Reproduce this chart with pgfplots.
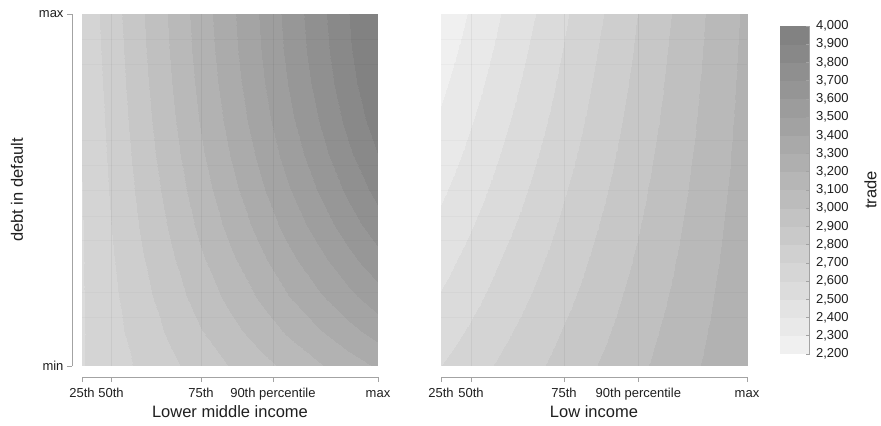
\documentclass[border=0pt]{standalone}
\usepackage{fontspec}
\setmainfont{Liberation Sans}
\usepackage{pgfplots}
\usepackage{pgfplotstable}
\pgfplotsset{compat=1.18}
\definecolor{axisgray}{gray}{0.64}
\definecolor{txt}{gray}{0.12}
\pgfplotsset{
  colormap={trade}{gray(0cm)=(0.940) gray(1cm)=(0.915) gray(2cm)=(0.889) gray(3cm)=(0.864) gray(4cm)=(0.839) gray(5cm)=(0.814) gray(6cm)=(0.788) gray(7cm)=(0.763) gray(8cm)=(0.738) gray(9cm)=(0.712) gray(10cm)=(0.687) gray(11cm)=(0.662) gray(12cm)=(0.636) gray(13cm)=(0.611) gray(14cm)=(0.586) gray(15cm)=(0.560) gray(16cm)=(0.535) gray(17cm)=(0.510) gray(18cm)=(0.510)},
  dataax/.style={anchor=south west, scale only axis, height=352bp,
    xmin=0, xmax=1, ymin=0, ymax=1, view={0}{90}, hide axis,
    colormap name=trade, point meta min=2200, point meta max=4000},
  deco/.style={anchor=south west, scale only axis, height=352bp,
    xmin=0, xmax=1, ymin=0, ymax=1,
    axis x line*=bottom, axis y line*=left,
    axis x line shift=11bp, axis y line shift=10bp,
    x axis line style={-, draw=axisgray, line width=0.7bp},
    y axis line style={-, draw=axisgray, line width=0.7bp},
    tick align=outside, major tick length=5bp,
    every tick/.style={draw=axisgray, line width=0.7bp},
    xtick={0,0.098,0.402,0.645,1},
    xticklabels={25th,50th,75th,90th percentile,max},
    ytick={0,1}, yticklabels={min,max},
    tick label style={font=\fontsize{13bp}{15bp}\selectfont, text=txt},
    xticklabel style={text height=9.4bp, text depth=0bp, yshift=-3bp},
    label style={font=\fontsize{16.5bp}{19bp}\selectfont, text=txt},
    xlabel style={yshift=4bp},
    ylabel shift=4bp,
    extra x ticks={0.098,0.402,0.645}, extra x tick labels={},
    extra y ticks={0.139,0.21,0.358,0.426,0.5,0.57,0.642,0.858,0.928}, extra y tick labels={},
    extra x tick style={major tick length=0pt, grid=major, major grid style={draw=black, opacity=0.05, line width=0.7bp}},
    extra y tick style={major tick length=0pt, grid=major, major grid style={draw=black, opacity=0.022, line width=0.7bp}},
  },
}
\pgfplotstableread{
x y z
0 0 2595
0.1 0 2657
0.2 0 2718
0.3 0 2780
0.4 0 2842
0.5 0 2904
0.6 0 2965
0.7 0 3027
0.8 0 3089
0.9 0 3150
1 0 3212
0 0.1 2594
0.1 0.1 2669
0.2 0.1 2744
0.3 0.1 2819
0.4 0.1 2894
0.5 0.1 2969
0.6 0.1 3044
0.7 0.1 3118
0.8 0.1 3193
0.9 0.1 3268
1 0.1 3343
0 0.2 2594
0.1 0.2 2681
0.2 0.2 2767
0.3 0.2 2854
0.4 0.2 2941
0.5 0.2 3027
0.6 0.2 3114
0.7 0.2 3201
0.8 0.2 3288
0.9 0.2 3374
1 0.2 3461
0 0.3 2595
0.1 0.3 2692
0.2 0.3 2789
0.3 0.3 2886
0.4 0.3 2983
0.5 0.3 3080
0.6 0.3 3177
0.7 0.3 3274
0.8 0.3 3371
0.9 0.3 3469
1 0.3 3566
0 0.4 2596
0.1 0.4 2703
0.2 0.4 2809
0.3 0.4 2915
0.4 0.4 3021
0.5 0.4 3127
0.6 0.4 3233
0.7 0.4 3339
0.8 0.4 3445
0.9 0.4 3551
1 0.4 3657
0 0.5 2599
0.1 0.5 2713
0.2 0.5 2826
0.3 0.5 2940
0.4 0.5 3053
0.5 0.5 3167
0.6 0.5 3281
0.7 0.5 3394
0.8 0.5 3508
0.9 0.5 3621
1 0.5 3735
0 0.6 2603
0.1 0.6 2722
0.2 0.6 2842
0.3 0.6 2962
0.4 0.6 3082
0.5 0.6 3201
0.6 0.6 3321
0.7 0.6 3441
0.8 0.6 3560
0.9 0.6 3680
1 0.6 3800
0 0.7 2607
0.1 0.7 2731
0.2 0.7 2856
0.3 0.7 2980
0.4 0.7 3105
0.5 0.7 3229
0.6 0.7 3354
0.7 0.7 3478
0.8 0.7 3602
0.9 0.7 3727
1 0.7 3851
0 0.8 2612
0.1 0.8 2740
0.2 0.8 2868
0.3 0.8 2996
0.4 0.8 3123
0.5 0.8 3251
0.6 0.8 3379
0.7 0.8 3506
0.8 0.8 3634
0.9 0.8 3762
1 0.8 3889
0 0.9 2619
0.1 0.9 2748
0.2 0.9 2878
0.3 0.9 3008
0.4 0.9 3137
0.5 0.9 3267
0.6 0.9 3396
0.7 0.9 3526
0.8 0.9 3655
0.9 0.9 3785
1 0.9 3914
0 1 2626
0.1 1 2756
0.2 1 2886
0.3 1 3016
0.4 1 3146
0.5 1 3276
0.6 1 3406
0.7 1 3536
0.8 1 3666
0.9 1 3796
1 1 3926
}\tA
\pgfplotstableread{
x y z
0 0 2600
0.1 0 2659
0.2 0 2718
0.3 0 2777
0.4 0 2836
0.5 0 2895
0.6 0 2954
0.7 0 3013
0.8 0 3072
0.9 0 3131
1 0 3190
0 0.1 2552
0.1 0.1 2615
0.2 0.1 2678
0.3 0.1 2741
0.4 0.1 2804
0.5 0.1 2866
0.6 0.1 2929
0.7 0.1 2992
0.8 0.1 3055
0.9 0.1 3118
1 0.1 3180
0 0.2 2507
0.1 0.2 2573
0.2 0.2 2640
0.3 0.2 2706
0.4 0.2 2773
0.5 0.2 2839
0.6 0.2 2906
0.7 0.2 2972
0.8 0.2 3038
0.9 0.2 3105
1 0.2 3171
0 0.3 2464
0.1 0.3 2534
0.2 0.3 2604
0.3 0.3 2674
0.4 0.3 2743
0.5 0.3 2813
0.6 0.3 2883
0.7 0.3 2953
0.8 0.3 3023
0.9 0.3 3093
1 0.3 3163
0 0.4 2423
0.1 0.4 2496
0.2 0.4 2569
0.3 0.4 2642
0.4 0.4 2716
0.5 0.4 2789
0.6 0.4 2862
0.7 0.4 2935
0.8 0.4 3009
0.9 0.4 3082
1 0.4 3155
0 0.5 2384
0.1 0.5 2460
0.2 0.5 2537
0.3 0.5 2613
0.4 0.5 2690
0.5 0.5 2766
0.6 0.5 2842
0.7 0.5 2919
0.8 0.5 2995
0.9 0.5 3072
1 0.5 3148
0 0.6 2348
0.1 0.6 2427
0.2 0.6 2506
0.3 0.6 2586
0.4 0.6 2665
0.5 0.6 2745
0.6 0.6 2824
0.7 0.6 2903
0.8 0.6 2983
0.9 0.6 3062
1 0.6 3142
0 0.7 2313
0.1 0.7 2396
0.2 0.7 2478
0.3 0.7 2560
0.4 0.7 2642
0.5 0.7 2725
0.6 0.7 2807
0.7 0.7 2889
0.8 0.7 2971
0.9 0.7 3054
1 0.7 3136
0 0.8 2281
0.1 0.8 2366
0.2 0.8 2451
0.3 0.8 2536
0.4 0.8 2621
0.5 0.8 2706
0.6 0.8 2791
0.7 0.8 2876
0.8 0.8 2961
0.9 0.8 3046
1 0.8 3131
0 0.9 2252
0.1 0.9 2339
0.2 0.9 2426
0.3 0.9 2514
0.4 0.9 2601
0.5 0.9 2689
0.6 0.9 2776
0.7 0.9 2864
0.8 0.9 2951
0.9 0.9 3039
1 0.9 3126
0 1 2224
0.1 1 2314
0.2 1 2404
0.3 1 2493
0.4 1 2583
0.5 1 2673
0.6 1 2763
0.7 1 2853
0.8 1 2942
0.9 1 3032
1 1 3122
}\tB
\begin{document}
\begin{tikzpicture}
\useasboundingbox (0,0) rectangle (881bp,426bp);
% panel 1 data
\begin{axis}[dataax, at={(82bp,60bp)}, width=296bp]
\addplot3[contour filled={levels={2200,2300,2400,2500,2600,2700,2800,2900,3000,3100,3200,3300,3400,3500,3600,3700,3800,3900,4000}}, mesh/cols=11] table[x=x,y=y,z=z]{\tA};
\end{axis}
% panel 2 data
\begin{axis}[dataax, at={(441bp,60bp)}, width=306bp]
\addplot3[contour filled={levels={2200,2300,2400,2500,2600,2700,2800,2900,3000,3100,3200,3300,3400,3500,3600,3700,3800,3900,4000}}, mesh/cols=11] table[x=x,y=y,z=z]{\tB};
\end{axis}
% panel 1 axes
\begin{axis}[deco, at={(82bp,60bp)}, width=296bp,
  xlabel={Lower middle income}, ylabel={debt in default}]
\addplot[draw=none] coordinates {(0,0) (1,1)};
\end{axis}
% panel 2 axes + colorbar
\begin{axis}[deco, at={(441bp,60bp)}, width=306bp,
  xlabel={Low income}, ytick=\empty, y axis line style={draw=none},
  colormap name=trade, point meta min=2200, point meta max=4000,
  colorbar,
  colorbar style={
    at={(parent axis.north east)}, anchor=north west, xshift=24bp, yshift=-12bp,
    width=30bp, height=328bp,
    axis x line=none, axis y line*=right,
    axis x line shift=0pt, axis y line shift=0pt,
    y axis line style={-, draw=axisgray, line width=0.7bp},
    extra x ticks={}, extra y ticks={},
    xmajorgrids=false, ymajorgrids=false,
    colormap access=piecewise constant,
    ytick={2200,2300,2400,2500,2600,2700,2800,2900,3000,3100,3200,3300,3400,3500,3600,3700,3800,3900,4000},
    yticklabels={{2,200},{2,300},{2,400},{2,500},{2,600},{2,700},{2,800},{2,900},{3,000},{3,100},{3,200},{3,300},{3,400},{3,500},{3,600},{3,700},{3,800},{3,900},{4,000}},
    yticklabel pos=right,
    major tick length=4bp,
    yticklabel style={font=\fontsize{13bp}{15bp}\selectfont, text=txt, xshift=3bp, yshift=0bp},
    xlabel={}, ylabel={trade}, ylabel shift=9bp,
    ylabel style={font=\fontsize{16.5bp}{19bp}\selectfont, text=txt},
  }]
\addplot[draw=none] coordinates {(0,0) (1,1)};
\end{axis}
\end{tikzpicture}
\end{document}
